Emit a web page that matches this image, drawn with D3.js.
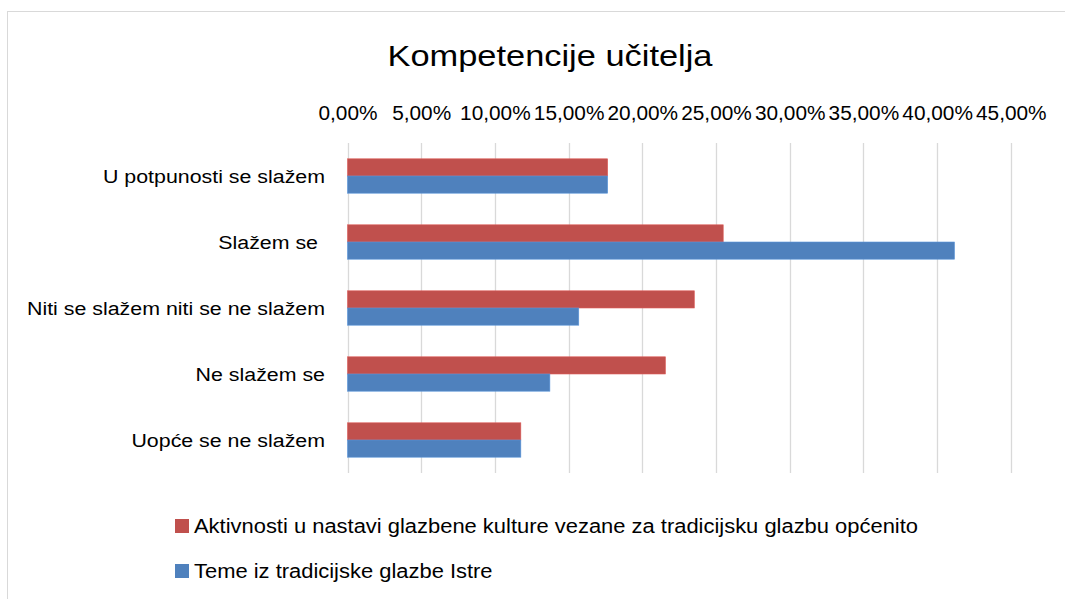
<!DOCTYPE html>
<html><head><meta charset="utf-8">
<script src="https://cdn.jsdelivr.net/npm/d3@7"></script>
<style>body{margin:0;background:#fff}svg{display:block}text{font-family:"Liberation Sans",Arial,sans-serif;fill:#000}</style>
</head><body>
<svg id="c" width="1065" height="599"></svg>
<script>
const title = "Kompetencije učitelja";
const categories = ["U potpunosti se slažem","Slažem se ","Niti se slažem niti se ne slažem","Ne slažem se","Uopće se ne slažem"];
const seriesNames = ["Aktivnosti u nastavi glazbene kulture vezane za tradicijsku glazbu općenito","Teme iz tradicijske glazbe Istre"];
const seriesColors = ["#C0504D","#4F81BD"];
const redValues = [0.1765,0.2549,0.2353,0.2157,0.1176];
const blueValues = [0.1765,0.4118,0.1569,0.1373,0.1176];
const tickValues = [0,0.05,0.10,0.15,0.20,0.25,0.30,0.35,0.40,0.45];

const svg = d3.select("#c");
svg.append("rect").attr("x",7.5).attr("y",11.5).attr("width",1100).attr("height",650)
  .attr("fill","#fff").attr("stroke","#D9D9D9");

const x = d3.scaleLinear().domain([0,0.45]).range([347.5,1010.8]);
const y = d3.scaleBand().domain(categories).range([143,473]);
const series = [redValues, blueValues];
const barH = 17.2;

function stretch(sel, k){
  sel.each(function(){
    const m = this.getComputedTextLength();
    d3.select(this).attr("textLength", m*k).attr("lengthAdjust","spacingAndGlyphs");
  });
}

svg.append("g").selectAll("line").data(tickValues).join("line")
  .attr("x1",d=>Math.round(x(d))+0.5).attr("x2",d=>Math.round(x(d))+0.5)
  .attr("y1",143).attr("y2",473).attr("stroke","#D9D9D9").attr("stroke-width",1.3);

const ax = d3.axisTop(x).tickValues(tickValues).tickSize(0).tickPadding(0)
  .tickFormat(d=>d3.format(".2f")(d*100).replace(".",",")+"%");
const axg = svg.append("g").attr("transform","translate(0,120)").call(ax);
axg.select(".domain").remove();
const tickText = axg.selectAll("text").attr("font-size",19.5).attr("dy",0)
  .attr("font-family",'"Liberation Sans",Arial,sans-serif').attr("fill","#000");
{
  const m0 = tickText.node().getComputedTextLength();
  stretch(tickText, 59/m0);
}

series.forEach((vals,si)=>{
  svg.append("g").selectAll("rect").data(categories).join("rect")
    .attr("x",x(0)).attr("width",(d,i)=>x(vals[i])-x(0))
    .attr("y",d=>y(d)+y.bandwidth()/2 - barH + si*barH).attr("height",barH)
    .attr("fill",seriesColors[si]).attr("stroke",d3.color(seriesColors[si]).brighter(0.4)).attr("stroke-width",0.6);
});

const catText = svg.append("g").selectAll("text").data(categories).join("text")
  .attr("x",325).attr("y",d=>y(d)+y.bandwidth()/2+6.5)
  .attr("text-anchor","end").attr("font-size",18).style("white-space","pre")
  .text(d=>d.trimEnd());
{
  const m = catText.filter((d,i)=>i===2).node().getComputedTextLength();
  stretch(catText, 298/m);
}
catText.filter(d=>d.endsWith(" ")).attr("x",318);

const t = svg.append("text").attr("x",550).attr("y",66).attr("text-anchor","middle").attr("font-size",30).text(title);
stretch(t, 325/t.node().getComputedTextLength());

const legBase = [533,578];
const legText = [];
seriesNames.forEach((s,i)=>{
  svg.append("rect").attr("x",175).attr("y",legBase[i]-14).attr("width",14).attr("height",14).attr("fill",seriesColors[i]);
  legText.push(svg.append("text").attr("x",194).attr("y",legBase[i]).attr("font-size",20).text(s));
});
{
  const k = 724/legText[0].node().getComputedTextLength();
  legText.forEach(lt=>stretch(lt,k));
}
</script>
</body></html>
